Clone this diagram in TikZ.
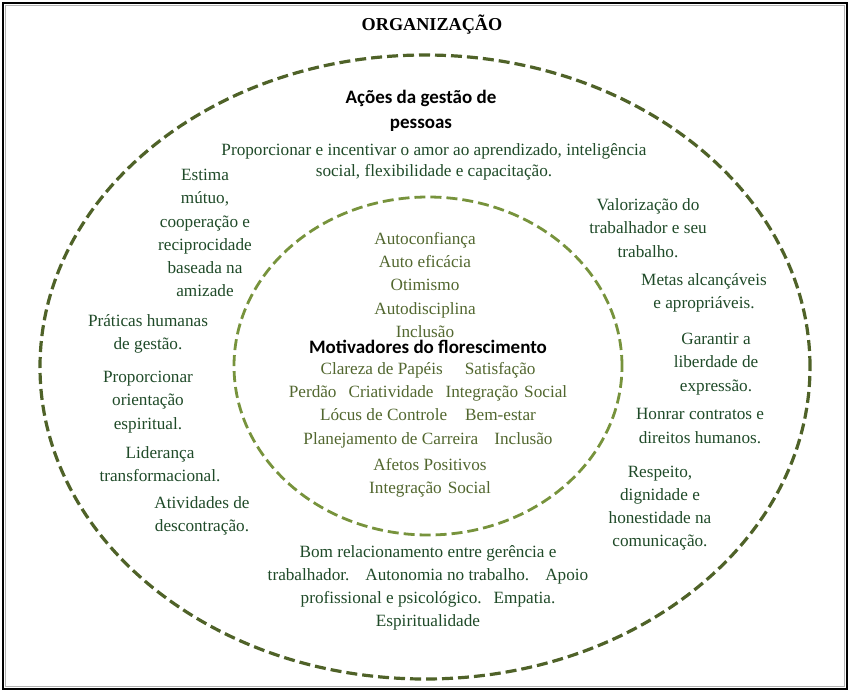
\documentclass[tikz,border=0pt]{standalone}
\usepackage{fontspec}
\setmainfont{Liberation Serif}
\newfontfamily\calib{Carlito}
\definecolor{outerline}{HTML}{4F6228}
\definecolor{innerline}{HTML}{77933C}
\definecolor{outertext}{HTML}{1F4A28}
\definecolor{innertext}{HTML}{52672F}
\begin{document}
\begin{tikzpicture}[x=1pt,y=-1pt,
  otxt/.style={align=center,text=outertext,inner sep=0pt,font=\fontsize{17.2}{23.2}\selectfont},
  itxt/.style={align=center,text=innertext,inner sep=0pt,font=\fontsize{17.2}{23.2}\selectfont},
  headtxt/.style={align=center,text=black,inner sep=0pt,font=\calib\bfseries\fontsize{19}{25}\selectfont},
  ring/.style={line width=3.2pt,dash pattern=on 11pt off 5pt}]
\useasboundingbox (0,0) rectangle (850,692);
% frame
\draw[line width=2.4pt,black] (3,3) rectangle (847,689);
\draw[line width=0.8pt,gray!60] (5.8,5.8) rectangle (844.2,686.2);
% title
\node[font=\bfseries\fontsize{18.2}{22}\selectfont,inner sep=0pt] (title) at (432,25) {ORGANIZAÇÃO};
% ellipses
\draw[ring,outerline] (425,367) ellipse [x radius=385pt, y radius=312pt];
\draw[ring,innerline,line width=2.8pt] (428,366) ellipse [x radius=194pt, y radius=169pt];
% outer headings
\node[headtxt] (acoes) at (421,111) {Ações da gestão de\\pessoas};
\node[otxt,font=\fontsize{17.2}{21.5}\selectfont] (prop) at (434,162) {Proporcionar e incentivar o amor ao aprendizado, inteligência\\social, flexibilidade e capacitação.};
\node[otxt] (estima) at (205,233) {Estima\\mútuo,\\cooperação e\\reciprocidade\\baseada na\\amizade};
\node[otxt] (prat) at (148,334) {Práticas humanas\\de gestão.};
\node[otxt] (orient) at (148,402) {Proporcionar\\orientação\\espiritual.};
\node[otxt] (lider) at (160,464) {Liderança\\transformacional.};
\node[otxt] (ativ) at (202,516) {Atividades de\\descontração.};
\node[otxt] (valor) at (648,228) {Valorização do\\trabalhador e seu\\trabalho.};
\node[otxt] (metas) at (704,293) {Metas alcançáveis\\e apropriáveis.};
\node[otxt] (garant) at (716,364) {Garantir a\\liberdade de\\expressão.};
\node[otxt] (honrar) at (700,426) {Honrar contratos e\\direitos humanos.};
\node[otxt] (resp) at (660,508) {Respeito,\\dignidade e\\honestidade na\\comunicação.};
\node[otxt] (bom) at (428,588) {Bom relacionamento entre gerência e\\trabalhador.\hspace{16pt}Autonomia no trabalho.\hspace{16pt}Apoio\\profissional e psicológico.\hspace{12pt}Empatia.\\Espiritualidade};
% inner
\node[itxt] (auto) at (425,285) {Autoconfiança\\Auto eficácia\\Otimismo\\Autodisciplina\\Inclusão};
\node[headtxt] (motiv) at (428,347) {Motivadores do florescimento};
\node[itxt] (clar) at (428,405) {Clareza de Papéis\hspace{22pt}Satisfação\\Perdão\hspace{12pt}Criatividade\hspace{12pt}Integração\hspace{6pt}Social\\Lócus de Controle\hspace{18pt}Bem-estar\\Planejamento de Carreira\hspace{16pt}Inclusão};
\node[itxt] (afet) at (430,478) {Afetos Positivos\\Integração\hspace{6pt}Social};
\end{tikzpicture}
\end{document}
